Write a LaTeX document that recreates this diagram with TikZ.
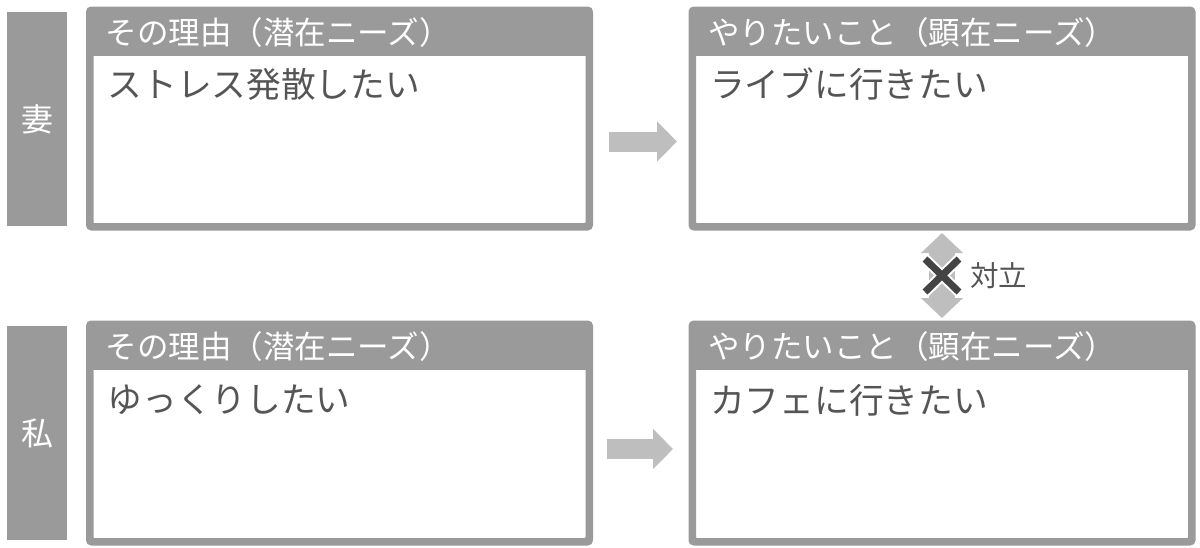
\documentclass[tikz,border=0pt]{standalone}
\usepackage{fontspec}
\newfontfamily\jp{Noto Sans CJK JP}
\usetikzlibrary{arrows.meta,calc}
\definecolor{boxgray}{RGB}{154,154,154}
\definecolor{arrowgray}{RGB}{190,190,190}
\definecolor{textgray}{RGB}{85,85,85}
\definecolor{crossgray}{RGB}{68,68,68}
\tikzset{
  card/.style={draw=boxgray, line width=5pt, fill=white, rounded corners=3pt,
    minimum width=497pt, minimum height=214pt, inner sep=0pt},
  sidebar/.style={fill=boxgray, minimum width=60pt, minimum height=214pt, inner sep=0pt,
    font=\jp\fontsize{32pt}{32pt}\selectfont, text=white},
  headtext/.style={anchor=west, inner sep=0pt, text=white, font=\jp\fontsize{31.5pt}{32pt}\selectfont},
  bodytext/.style={anchor=west, inner sep=0pt, text=textgray, font=\jp\fontsize{34.7pt}{35pt}\selectfont},
  flowarrow/.style={draw=arrowgray, line width=20pt, -{Triangle[length=20pt,width=39pt]}},
  conflict/.style={draw=arrowgray, line width=26pt, {Triangle[length=20pt,width=41pt]}-{Triangle[length=20pt,width=41pt]}},
}
\begin{document}
\begin{tikzpicture}[x=1pt,y=-1pt]
\useasboundingbox (0,0) rectangle (1200,547);
% side labels
\node[sidebar] (wife) at (37,119) {妻};
\node[sidebar] (me) at (37,433) {私};
% cards
\node[card] (w1) at (339.5,118.5) {};
\node[card] (n1) at (942,118.5) {};
\node[card, minimum height=215pt] (w2) at (339.5,433) {};
\node[card, minimum height=215pt] (n2) at (942,433) {};
% headers
\foreach \c in {w1,n1,w2,n2}{
  \fill[boxgray] (\c.north west) rectangle ([yshift=-46.5pt]\c.north east);
  \draw[boxgray, line width=5pt, rounded corners=3pt] (\c.south west) rectangle (\c.north east);
}
\node[headtext] (h1) at ([xshift=17pt,yshift=-24pt]w1.north west) {その理由（潜在ニーズ）};
\node[headtext] (h2) at ([xshift=17pt,yshift=-24pt]n1.north west) {やりたいこと（顕在ニーズ）};
\node[headtext] (h3) at ([xshift=17pt,yshift=-24pt]w2.north west) {その理由（潜在ニーズ）};
\node[headtext] (h4) at ([xshift=17pt,yshift=-24pt]n2.north west) {やりたいこと（顕在ニーズ）};
% bodies
\node[bodytext] (b1) at ([xshift=19pt,yshift=-75pt]w1.north west) {ストレス発散したい};
\node[bodytext] (b2) at ([xshift=19pt,yshift=-75pt]n1.north west) {ライブに行きたい};
\node[bodytext] (b3) at ([xshift=19pt,yshift=-77pt]w2.north west) {ゆっくりしたい};
\node[bodytext] (b4) at ([xshift=19pt,yshift=-77pt]n2.north west) {カフェに行きたい};
% flow arrows
\draw[flowarrow, shorten <=18pt, shorten >=14pt] ([yshift=-23pt]w1.east) -- ([yshift=-23pt]n1.west);
\draw[flowarrow, shorten <=16pt, shorten >=18pt] ([yshift=-16pt]w2.east) -- ([yshift=-16pt]n2.west);
% conflict
\draw[conflict, shorten <=5pt, shorten >=5pt] (n1.south) -- (n2.north);
\coordinate (xc) at ($(n1.south)!0.5!(n2.north)$);
\draw[white, line width=11pt] ([shift={(-19pt,-18.5pt)}]xc) -- ([shift={(19pt,18.5pt)}]xc)
  ([shift={(-19pt,18.5pt)}]xc) -- ([shift={(19pt,-18.5pt)}]xc);
\draw[crossgray, line width=7pt] ([shift={(-17pt,-16.5pt)}]xc) -- ([shift={(17pt,16.5pt)}]xc)
  ([shift={(-17pt,16.5pt)}]xc) -- ([shift={(17pt,-16.5pt)}]xc);
\node[anchor=west, inner sep=0pt, text=textgray, font=\jp\fontsize{28.5pt}{29pt}\selectfont] (tl) at ([xshift=28pt]xc) {対立};
\end{tikzpicture}
\end{document}
